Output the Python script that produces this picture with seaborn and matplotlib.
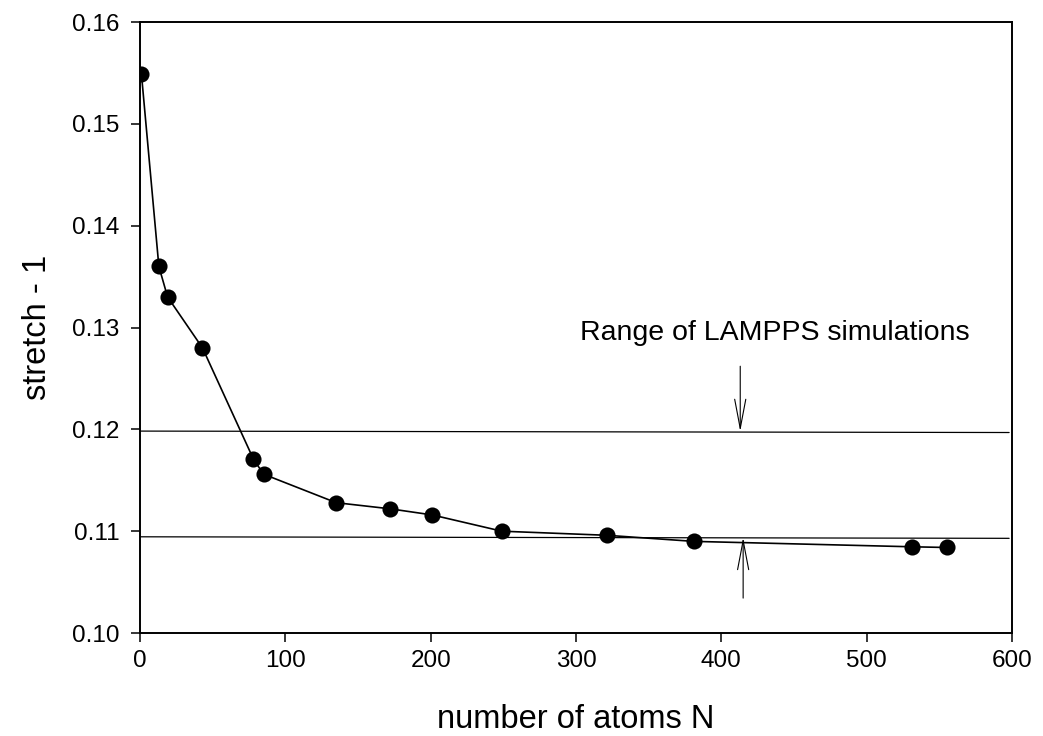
import matplotlib
matplotlib.use("Agg")
import matplotlib.pyplot as plt
from matplotlib.ticker import FormatStrFormatter, MultipleLocator
import pandas as pd
import seaborn as sns

# data
atoms_n = [1, 13, 19, 43, 78, 85, 135, 172, 201, 249, 321, 381, 531, 555]
stretch = [0.1549, 0.1360, 0.1330, 0.1280, 0.1171, 0.1156, 0.1128, 0.1122,
           0.1116, 0.1100, 0.1096, 0.1090, 0.10847, 0.1084]

# LAMPPS range lines (slightly tilted in the original)
range_x = [0, 598]
range_upper = [0.11983, 0.11969]
range_lower = [0.10945, 0.10930]

# arrows: (x, tail y, head y)
arrow_upper = (413, 0.1262, 0.1198)
arrow_lower = (415, 0.10343, 0.10938)

label_text = "Range of LAMPPS simulations"
label_pos = (303, 0.1288)

sns.set_style("ticks")
plt.rcParams['font.family'] = ['Liberation Sans', 'DejaVu Sans']
plt.rcParams['axes.linewidth'] = 1.4
plt.rcParams['axes.edgecolor'] = 'black'
plt.rcParams['text.color'] = 'black'
plt.rcParams['axes.labelcolor'] = 'black'
plt.rcParams['xtick.color'] = 'black'
plt.rcParams['ytick.color'] = 'black'
plt.rcParams['xtick.major.size'] = 6.5
plt.rcParams['ytick.major.size'] = 6.5
plt.rcParams['xtick.major.width'] = 1.1
plt.rcParams['ytick.major.width'] = 1.1

df = pd.DataFrame({'N': atoms_n, 'stretch': stretch})

fig = plt.figure(figsize=(10.43, 7.36), dpi=100)
ax = fig.add_axes([0.1342, 0.1399, 0.8361, 0.8302])

sns.lineplot(x=range_x, y=range_upper, color='black', linewidth=0.9, ax=ax)
sns.lineplot(x=range_x, y=range_lower, color='black', linewidth=0.9, ax=ax)
sns.lineplot(data=df, x='N', y='stretch', color='black', linewidth=1.2,
             marker='o', markersize=11.6, markeredgewidth=0, ax=ax)

for ax_x, y_tail, y_head in [arrow_upper, arrow_lower]:
    ax.annotate("", xy=(ax_x, y_head), xytext=(ax_x, y_tail),
                arrowprops=dict(arrowstyle="->,head_length=21,head_width=4",
                                mutation_scale=1, color='black', lw=0.8,
                                shrinkA=0, shrinkB=0))

ax.text(label_pos[0], label_pos[1], label_text, fontsize=20.5,
        ha='left', va='baseline')

ax.set_xlim(0, 600)
ax.set_ylim(0.10, 0.16)
ax.xaxis.set_major_locator(MultipleLocator(100))
ax.yaxis.set_major_locator(MultipleLocator(0.01))
ax.yaxis.set_major_formatter(FormatStrFormatter('%.2f'))
ax.tick_params(axis='both', labelsize=17.5, direction='out')
ax.tick_params(axis='x', pad=6)
ax.tick_params(axis='y', pad=8)
ax.set_xlabel('number of atoms N', fontsize=23.5, labelpad=23)
ax.set_ylabel('stretch - 1', fontsize=23.5, labelpad=14)
for side in ['top', 'right']:
    ax.spines[side].set_visible(True)

fig.savefig('out.png', dpi=100)
